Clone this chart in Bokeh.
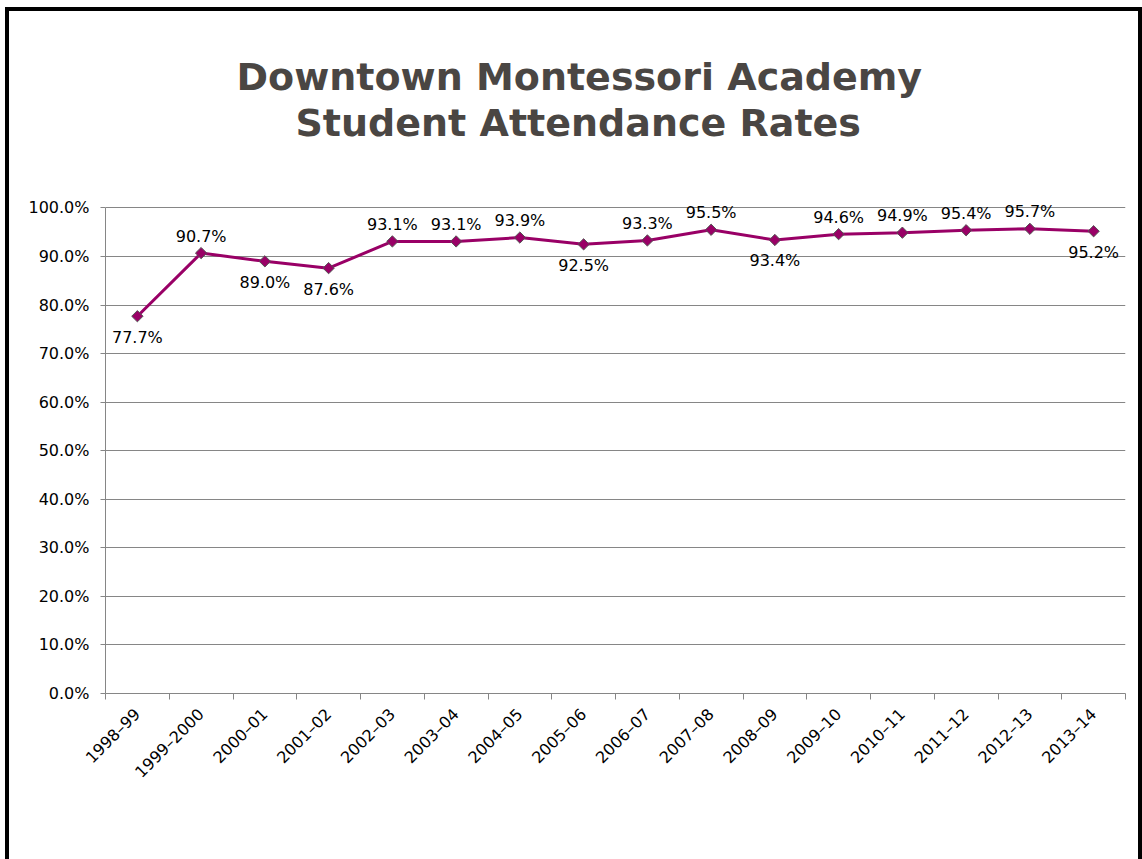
import math
from bokeh.plotting import figure
from bokeh.models import Range1d, FixedTicker, ColumnDataSource, Title
from bokeh.embed import file_html
from bokeh.resources import INLINE
from bokeh.core.properties import value

# ---- data ----
years = ["1998–99", "1999–2000", "2000–01", "2001–02", "2002–03", "2003–04",
         "2004–05", "2005–06", "2006–07", "2007–08", "2008–09", "2009–10",
         "2010–11", "2011–12", "2012–13", "2013–14"]
rates = [77.7, 90.7, 89.0, 87.6, 93.1, 93.1, 93.9, 92.5, 93.3, 95.5,
         93.4, 94.6, 94.9, 95.4, 95.7, 95.2]
label_side = ["below", "above", "below", "below", "above", "above", "above",
              "below", "above", "above", "below", "above", "above", "above",
              "above", "below"]
y_ticks = [0, 10, 20, 30, 40, 50, 60, 70, 80, 90, 100]
title_lines = ["Downtown Montessori Academy", "Student Attendance Rates"]

FONT = "DejaVu Sans"
GRID = "#868686"
LINE = "#990066"
TITLE_C = "#4a4643"

xs = [i + 0.5 for i in range(len(years))]
src = ColumnDataSource(dict(
    x=xs, y=rates,
    lab=[f"{v:.1f}%" for v in rates],
    yoff=[-17 if s == "above" else 21 for s in label_side],
))

# canvas placed at (9, 11) inside a black page border
p = figure(width=1129, height=848, output_backend="svg", toolbar_location=None,
           x_range=Range1d(0, len(years)), y_range=Range1d(0, 104),
           min_border_left=96, min_border_right=21, min_border_top=177,
           min_border_bottom=170)
p.styles = {"box-sizing": "content-box",
            "margin-left": "5px", "margin-top": "7px",
            "border-left": "4px solid black", "border-top": "4px solid black",
            "border-right": "4px solid black"}
p.background_fill_color = "white"
p.border_fill_color = "white"
p.outline_line_color = None

# two-line title
p.title.visible = False
t2 = Title(text=title_lines[1], align="left", offset=190, standoff=88,
           text_font=FONT, text_font_size="38px", text_font_style="bold",
           text_color=TITLE_C)
t1 = Title(text=title_lines[0], align="left", offset=131, standoff=-89,
           text_font=FONT, text_font_size="38px", text_font_style="bold",
           text_color=TITLE_C)
p.add_layout(t2, "above")
p.add_layout(t1, "above")

# grid
p.xgrid.visible = False
p.ygrid.ticker = FixedTicker(ticks=y_ticks)
p.ygrid.grid_line_color = GRID
p.ygrid.grid_line_width = 1

# y axis
ya = p.yaxis[0]
ya.ticker = FixedTicker(ticks=y_ticks)
ya.bounds = (0, 100)
ya.major_label_overrides = {t: f"{t:.1f}%" for t in y_ticks}
ya.axis_line_color = GRID
ya.major_tick_line_color = GRID
ya.major_tick_out = 5
ya.major_tick_in = 0
ya.minor_tick_line_color = None
ya.major_label_text_font = FONT
ya.major_label_text_font_size = "16px"
ya.major_label_text_color = "black"
ya.major_label_standoff = 11

# x axis
xa = p.xaxis[0]
xa.ticker = FixedTicker(ticks=xs, minor_ticks=list(range(len(years) + 1)))
xa.major_label_overrides = {x: y for x, y in zip(xs, years)}
xa.axis_line_color = GRID
xa.major_tick_line_color = None
xa.major_tick_out = 0
xa.major_tick_in = 0
xa.minor_tick_line_color = GRID
xa.minor_tick_out = 6
xa.minor_tick_in = 0
xa.major_label_orientation = math.pi / 4
xa.major_label_text_font = FONT
xa.major_label_text_font_size = "16px"
xa.major_label_text_color = "black"
xa.major_label_standoff = 12

# series
p.line("x", "y", source=src, line_color=LINE, line_width=3)
p.scatter("x", "y", source=src, marker="square", size=8, angle=math.pi / 4,
          fill_color=LINE, line_color="#555555", line_width=1)
p.text("x", "y", text="lab", source=src, y_offset="yoff",
       text_align="center", text_baseline="middle",
       text_font=value(FONT), text_font_size="16px", text_color="black")

open("out.html", "w").write(file_html(p, INLINE))
